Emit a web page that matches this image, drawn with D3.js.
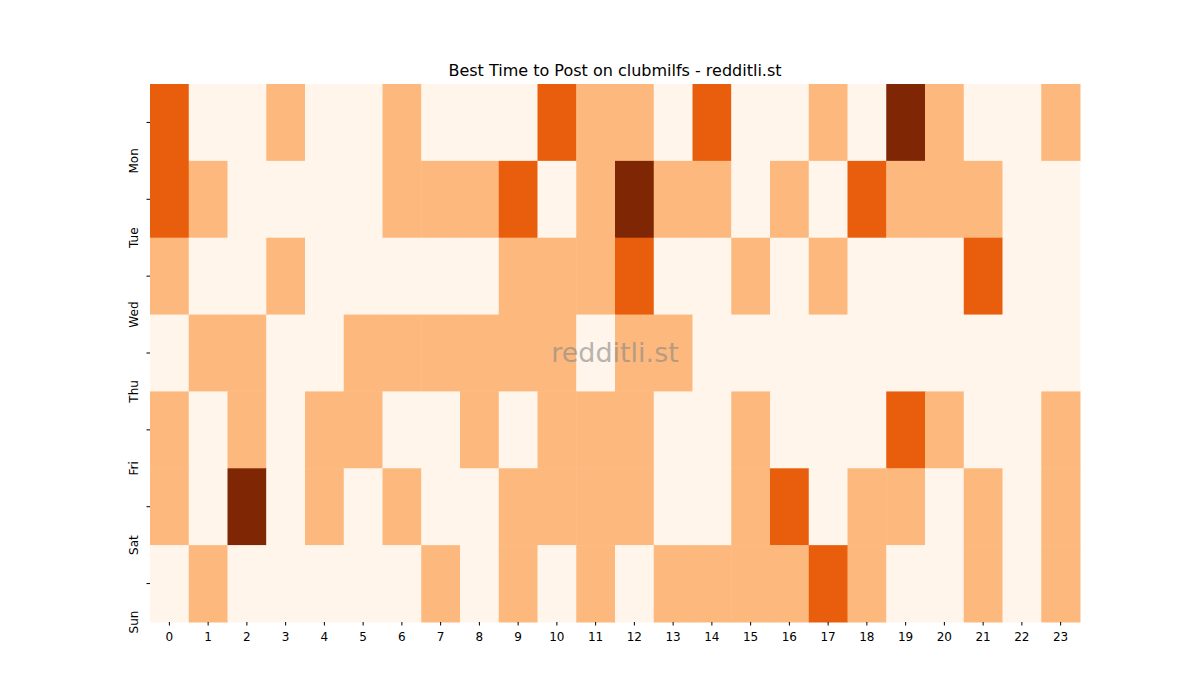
<!DOCTYPE html>
<html><head><meta charset="utf-8">
<script src="https://cdn.jsdelivr.net/npm/d3@7"></script>
<style>body{margin:0;background:#fff}</style></head>
<body><svg id="c" width="1200" height="700"></svg>
<script>
const days = ["Mon","Tue","Wed","Thu","Fri","Sat","Sun"];
const hours = d3.range(24).map(String);
const mon = [2,0,0,1,0,0,1,0,0,0,2,1,1,0,2,0,0,1,0,3,1,0,0,1];
const tue = [2,1,0,0,0,0,1,1,1,2,0,1,3,1,1,0,1,0,2,1,1,1,0,0];
const wed = [1,0,0,1,0,0,0,0,0,1,1,1,2,0,0,1,0,1,0,0,0,2,0,0];
const thu = [0,1,1,0,0,1,1,1,1,1,1,0,1,1,0,0,0,0,0,0,0,0,0,0];
const fri = [1,0,1,0,1,1,0,0,1,0,1,1,1,0,0,1,0,0,0,2,1,0,0,1];
const sat = [1,0,3,0,1,0,1,0,0,1,1,1,1,0,0,1,2,0,1,1,0,1,0,1];
const sun = [0,1,0,0,0,0,0,1,0,1,0,1,0,1,1,1,1,2,1,0,0,1,0,1];
const rows = [mon,tue,wed,thu,fri,sat,sun];
const colors = ["#fff5eb","#fdb97d","#e95e0d","#7f2704"];

const svg = d3.select("#c");
const x = d3.scaleBand().domain(hours).range([150,1080]);
const y = d3.scaleBand().domain(days).range([84,622]);
const cells = [];
rows.forEach((r,i)=>r.forEach((v,j)=>cells.push({d:days[i],h:hours[j],v})));
svg.selectAll("rect.cell").data(cells).join("rect")
  .attr("x",d=>x(d.h)).attr("y",d=>y(d.d))
  .attr("width",x.bandwidth()+0.5).attr("height",y.bandwidth()+0.5)
  .attr("fill",d=>colors[d.v]);

const xa = svg.append("g").attr("transform","translate(0,622)").call(d3.axisBottom(x).tickSize(3.5));
const ya = svg.append("g").attr("transform","translate(150,0)").call(d3.axisLeft(y).tickSize(3.5));
[xa,ya].forEach(a=>{a.select(".domain").remove();a.selectAll("text").attr("font-family","DejaVu Sans").attr("font-size",12).attr("fill","#000");});
xa.selectAll("text").attr("dy","1.0em");
ya.selectAll("text").attr("transform",function(){return null;})
 .each(function(d){const t=d3.select(this);t.attr("text-anchor","middle").attr("x",null).attr("dy",null)
   .attr("transform",`translate(-16,${y.bandwidth()/2}) rotate(-90)`).attr("dominant-baseline","middle");});
ya.selectAll(".tick").each(function(){});

svg.append("text").attr("x",615).attr("y",76).attr("text-anchor","middle")
  .attr("font-family","DejaVu Sans").attr("font-size",16).text("Best Time to Post on clubmilfs - redditli.st");
svg.append("text").attr("x",615).attr("y",362).attr("text-anchor","middle")
  .attr("font-family","DejaVu Sans").attr("font-size",27).attr("fill","#888").attr("opacity",0.6).text("redditli.st");
</script></body></html>
